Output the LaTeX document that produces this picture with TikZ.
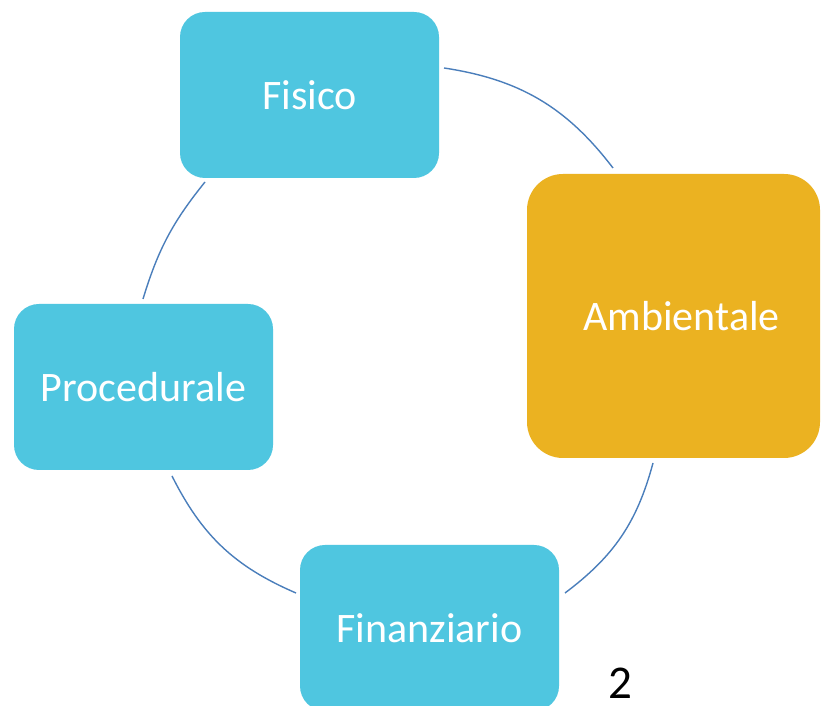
\documentclass[tikz,border=0pt]{standalone}
\usepackage{fontspec}
\setmainfont{Carlito}
\definecolor{boxcyan}{RGB}{79,198,224}
\definecolor{boxorange}{RGB}{235,178,33}
\definecolor{arcblue}{RGB}{74,126,187}
\tikzset{
  cyclebox/.style={draw=none, fill=boxcyan, rounded corners=25pt, minimum width=259pt, minimum height=166pt, inner sep=0pt, text=white, font=\fontsize{42}{50}\selectfont},
  bigbox/.style={cyclebox, fill=boxorange, rounded corners=36pt, minimum width=293pt, minimum height=284pt},
  cyclearc/.style={draw=arcblue, line width=1.4pt}
}
\begin{document}
\begin{tikzpicture}[x=1pt,y=1pt]
\clip (0,0) rectangle (821,706);
\fill[white] (0,0) rectangle (821,706);
\node[cyclebox] (fis) at (309.5,611) {Fisico};
\node[bigbox] (amb) at (673.5,390) {\hspace*{16pt}Ambientale};
\node[cyclebox] (fin) at (429.5,78) {Finanziario};
\node[cyclebox] (pro) at (143.5,319) {Procedurale};
\node[font=\fontsize{47}{56}\selectfont, text=black, inner sep=0pt, anchor=base] (num) at (620,7) {2};
\coordinate (a1s) at (444,638);
\coordinate (a1e) at (613,538);
\coordinate (a2s) at (653,243);
\coordinate (a2e) at (565,113);
\coordinate (a3s) at (296,113);
\coordinate (a3e) at (172,230);
\coordinate (a4s) at (143,407);
\coordinate (a4e) at (205,524);
\draw[cyclearc] (a1s) to[bend left=22] (a1e);
\draw[cyclearc] (a2s) to[bend left=19] (a2e);
\draw[cyclearc] (a3s) to[bend left=20] (a3e);
\draw[cyclearc] (a4s) to[bend left=11] (a4e);
\end{tikzpicture}
\end{document}
